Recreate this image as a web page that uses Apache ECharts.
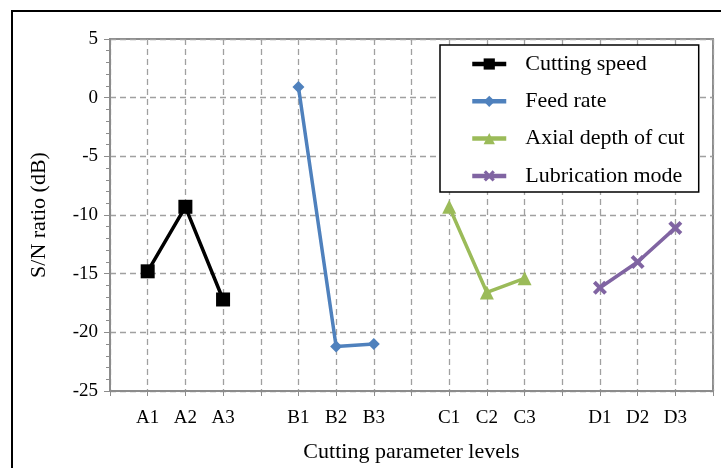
<!DOCTYPE html>
<html>
<head>
<meta charset="utf-8">
<script src="https://cdn.jsdelivr.net/npm/echarts@6/dist/echarts.min.js"></script>
<style>
  html, body { margin: 0; padding: 0; background: #fff; }
  #chart { width: 721px; height: 468px; }
</style>
</head>
<body>
<div id="chart"></div>
<script>
// category slots, with empty slots between groups
var levels = ['', 'A1', 'A2', 'A3', '', 'B1', 'B2', 'B3', '', 'C1', 'C2', 'C3', '', 'D1', 'D2', 'D3', ''];
var yTicks = [5, 0, -5, -10, -15, -20, -25];

var cuttingSpeed = [-14.8, -9.3, -17.2];
var feedRate = [0.9, -21.2, -21.0];
var axialDepth = [-9.3, -16.6, -15.4];
var lubrication = [-16.2, -14.0, -11.1];

var names = ['Cutting speed', 'Feed rate', 'Axial depth of cut', 'Lubrication mode'];
var colors = ['#000000', '#4f81bd', '#9bbb59', '#8064a2'];
var symbols = [
    'rect',
    'diamond',
    'triangle',
    'path://M2,0 L5,3 L8,0 L10,2 L7,5 L10,8 L8,10 L5,7 L2,10 L0,8 L3,5 L0,2 Z'
];
var symbolSizes = [14, 12, 14, 14];

// put each group's 3 values on its own slots
function place(values, start) {
    var arr = levels.map(function () { return null; });
    values.forEach(function (v, i) { arr[start + i] = v; });
    return arr;
}

var groups = [cuttingSpeed, feedRate, axialDepth, lubrication];
var starts = [1, 5, 9, 13];

var font = 'Liberation Serif';

var series = groups.map(function (g, i) {
    return {
        name: names[i],
        type: 'line',
        data: place(g, starts[i]),
        connectNulls: false,
        symbol: symbols[i],
        symbolSize: symbolSizes[i],
        showAllSymbol: true,
        lineStyle: { color: colors[i], width: 3.5 },
        itemStyle: { color: colors[i] },
        z: 3
    };
});

var myChart = echarts.init(document.getElementById('chart'));

var options = {
    backgroundColor: '#fff',
    animation: false,
    textStyle: { fontFamily: font },
    graphic: [{
        type: 'rect',
        shape: { x: 12, y: 11, width: 730, height: 480 },
        style: { fill: 'none', stroke: '#000', lineWidth: 2 },
        silent: true
    }],
    grid: {
        left: 110, top: 39, right: 8, bottom: 77,
        show: true,
        borderColor: '#8c8c8c',
        borderWidth: 2
    },
    legend: {
        orient: 'vertical',
        left: 440,
        top: 45,
        padding: [7, 14, 4, 30],
        itemWidth: 34,
        itemHeight: 14,
        itemGap: 13.3,
        backgroundColor: '#fff',
        borderColor: '#000',
        borderWidth: 1.5,
        lineStyle: { width: 4.5 },
        textStyle: {
            fontFamily: font,
            fontSize: 22,
            lineHeight: 24,
            color: '#000',
            padding: [0, 0, 0, 14]
        },
        data: names
    },
    xAxis: {
        type: 'category',
        data: levels,
        boundaryGap: false,
        name: 'Cutting parameter levels',
        nameLocation: 'middle',
        nameGap: 50,
        nameTextStyle: { fontFamily: font, fontSize: 22, color: '#000' },
        axisLine: { onZero: false, lineStyle: { color: '#8c8c8c', width: 2 } },
        axisTick: { show: true, interval: 0, length: 5, lineStyle: { color: '#8c8c8c' } },
        axisLabel: { interval: 0, margin: 18, fontFamily: font, fontSize: 19, color: '#000' },
        splitLine: { show: true, interval: 0, lineStyle: { color: '#a0a0a0', type: [6, 4], width: 1.3 } }
    },
    yAxis: {
        type: 'value',
        min: yTicks[yTicks.length - 1],
        max: yTicks[0],
        interval: 5,
        name: 'S/N ratio (dB)',
        nameLocation: 'middle',
        nameGap: 60,
        nameTextStyle: { fontFamily: font, fontSize: 22, color: '#000' },
        axisLine: { show: true, lineStyle: { color: '#8c8c8c', width: 2 } },
        axisTick: { show: true, length: 6, lineStyle: { color: '#8c8c8c' } },
        minorTick: { show: true, splitNumber: 5, length: 4, lineStyle: { color: '#8c8c8c' } },
        axisLabel: { margin: 12, fontFamily: font, fontSize: 19, color: '#000' },
        splitLine: { show: true, lineStyle: { color: '#a0a0a0', type: [6, 4], width: 1.3 } }
    },
    series: series
};

myChart.setOption(options);
</script>
</body>
</html>
